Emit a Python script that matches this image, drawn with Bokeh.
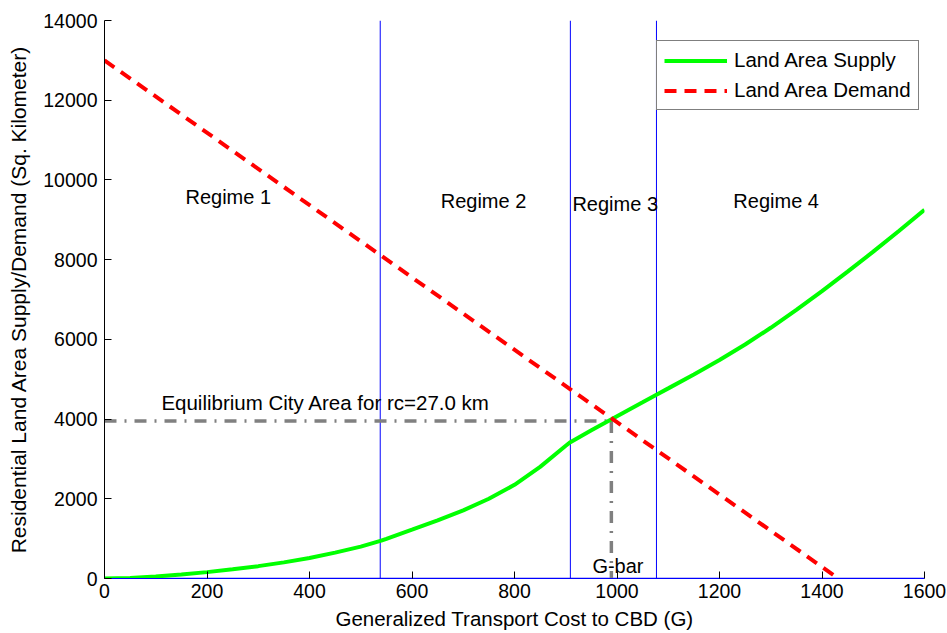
from bokeh.plotting import figure
from bokeh.models import Range1d, FixedTicker, Legend, LegendItem
from bokeh.core.properties import value
from bokeh.embed import file_html
from bokeh.resources import INLINE

# ---------------- data ----------------
supply_G = [0, 50, 100, 150, 200, 250, 300, 350, 400, 450, 500, 540, 550, 600, 650, 700, 750,
            800, 850, 900, 909, 950, 1000, 1050, 1077, 1100, 1150, 1200, 1250, 1300, 1350,
            1400, 1450, 1500, 1550, 1600]
supply_A = [0, 15, 50, 100, 160, 230, 310, 405, 515, 650, 800, 950, 995, 1225, 1460, 1710, 2000,
            2350, 2800, 3330, 3420, 3720, 4070, 4420, 4610, 4770, 5120, 5480, 5870, 6290, 6740,
            7210, 7700, 8200, 8720, 9250]

demand_G = [0, 1432]
demand_A = [13000, 0]

regime_bounds = [538, 909, 1077]
G_bar = 989
A_eq = 3950

x_ticks = [0, 200, 400, 600, 800, 1000, 1200, 1400, 1600]
y_ticks = [0, 2000, 4000, 6000, 8000, 10000, 12000, 14000]

regime_labels = ["Regime 1", "Regime 2", "Regime 3", "Regime 4"]
regime_label_G = [158, 656, 913, 1227]
regime_label_A = [9560, 9483, 9408, 9483]

eq_label = "Equilibrium City Area for rc=27.0 km"
gbar_label = "G-bar"

FONT = "Liberation Sans"

p = figure(width=947, height=633, output_backend="svg", toolbar_location=None,
           x_range=Range1d(0, 1600), y_range=Range1d(0, 14000),
           min_border_left=104, min_border_right=23, min_border_top=20, min_border_bottom=55)
p.outline_line_color = None
p.xgrid.visible = False
p.ygrid.visible = False
p.background_fill_color = "white"
p.border_fill_color = "white"

for ax, ticks in ((p.xaxis, x_ticks), (p.yaxis, y_ticks)):
    ax.ticker = FixedTicker(ticks=ticks)
    ax.major_tick_in = 7
    ax.major_tick_out = 0
    ax.minor_tick_line_color = None
    ax.axis_line_color = "black"
    ax.major_tick_line_color = "black"
    ax.major_label_text_font = FONT
    ax.major_label_text_font_size = "19.5px"
    ax.major_label_text_color = "black"
    ax.axis_label_text_font = FONT
    ax.axis_label_text_font_style = "normal"
    ax.axis_label_text_color = "black"

p.xaxis.axis_label_text_font_size = "20.5px"
p.yaxis.axis_label_text_font_size = "21px"
p.xaxis.axis_line_color = "#0000ff"
p.xaxis.axis_label = "Generalized Transport Cost to CBD (G)"
p.yaxis.axis_label = "Residential Land Area Supply/Demand (Sq. Kilometer)"
p.xaxis.major_label_standoff = 5
p.yaxis.major_label_standoff = 7
p.xaxis.axis_label_standoff = 6
p.yaxis.axis_label_standoff = 10

# regime boundaries (blue)
p.segment(x0=regime_bounds, y0=[0] * len(regime_bounds), x1=regime_bounds,
          y1=[14000] * len(regime_bounds), line_color="#0000ff", line_width=1)
p.segment(x0=[0], y0=[0], x1=[1600], y1=[0], line_color="#0000ff", line_width=1.5)

# equilibrium lines
p.line([0, G_bar], [A_eq, A_eq], line_color="#808080", line_width=3.5, line_dash="12 8 2 8")
p.line([G_bar, G_bar], [A_eq, 0], line_color="#808080", line_width=3.5, line_dash="12 8 2 8")

sup = p.line(supply_G, supply_A, line_color="#00ff00", line_width=4)
dem = p.line(demand_G, demand_A, line_color="#ff0000", line_width=4, line_dash="12 8")

# texts
p.text(x=regime_label_G, y=regime_label_A, text=regime_labels, text_font=value(FONT),
       text_font_size=value("20px"), text_align="left", text_baseline="middle", text_color="black")
p.text(x=[111], y=[4415], text=[eq_label], text_font=value(FONT),
       text_font_size=value("20.5px"), text_align="left", text_baseline="middle", text_color="black")
p.text(x=[952], y=[326], text=[gbar_label], text_font=value(FONT),
       text_font_size=value("20px"), text_align="left", text_baseline="middle", text_color="black")

legend = Legend(items=[LegendItem(label="Land Area Supply", renderers=[sup]),
                       LegendItem(label="Land Area Demand", renderers=[dem])],
                location=(552, 468))
legend.label_text_font = FONT
legend.label_text_font_size = "20.5px"
legend.label_text_color = "black"
legend.border_line_color = "black"
legend.border_line_width = 1
legend.background_fill_alpha = 1
legend.padding = 7
legend.spacing = 6
legend.glyph_width = 63
legend.glyph_height = 21
legend.label_height = 21
legend.label_standoff = 7
legend.margin = 0
p.add_layout(legend)

open("out.html", "w").write(file_html(p, INLINE))
